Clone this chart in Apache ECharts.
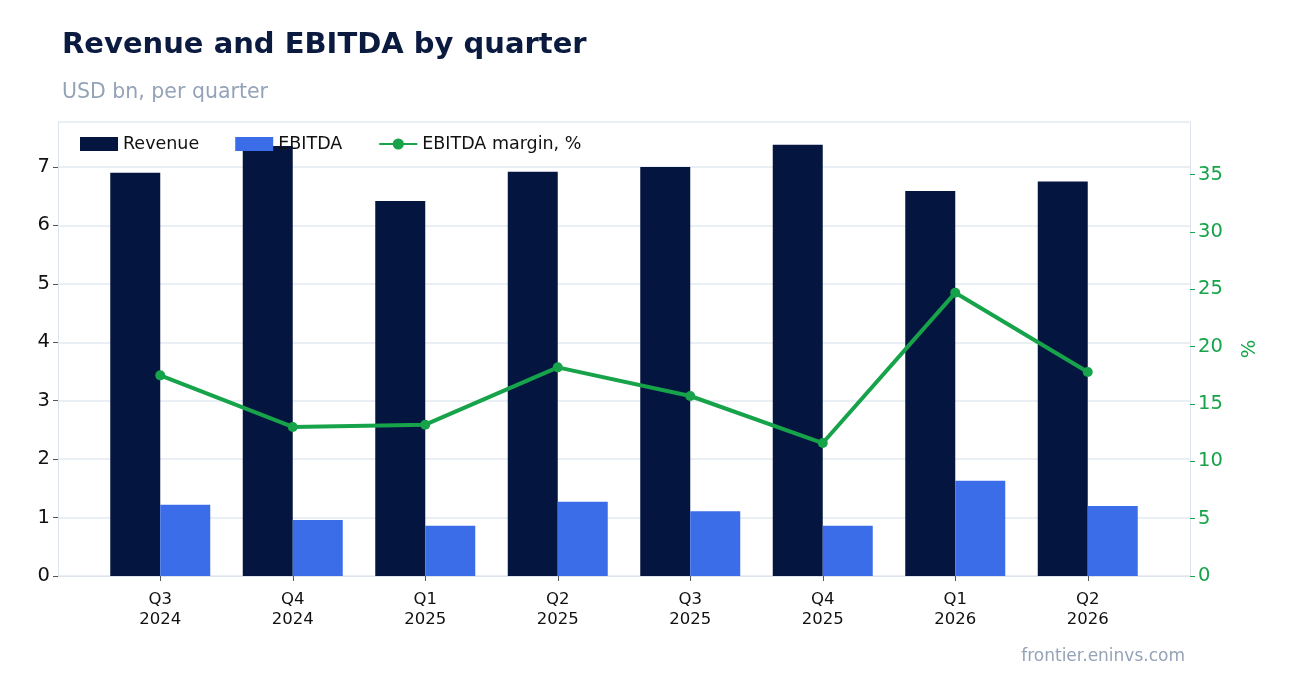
<!doctype html>
<html>
<head>
<meta charset="utf-8">
<script src="https://cdn.jsdelivr.net/npm/echarts@6/dist/echarts.min.js"></script>
<style>body{margin:0;background:#fff}#main{width:1289px;height:693px}</style>
</head>
<body>
<div id="main"></div>
<script>
var quarters = ['Q3\n2024', 'Q4\n2024', 'Q1\n2025', 'Q2\n2025', 'Q3\n2025', 'Q4\n2025', 'Q1\n2026', 'Q2\n2026'];
var revenue = [6.90, 7.36, 6.42, 6.92, 7.00, 7.38, 6.59, 6.75];
var ebitda = [1.22, 0.96, 0.86, 1.27, 1.11, 0.86, 1.63, 1.20];
var margin = [17.5, 13.0, 13.2, 18.2, 15.7, 11.6, 24.7, 17.8];

var font = 'DejaVu Sans';
echarts.init(document.getElementById('main')).setOption({
    textStyle: { fontFamily: font },
    title: [
        { text: 'Revenue and EBITDA by quarter', left: 57, top: 26,
          textStyle: { fontSize: 29, fontWeight: 'bold', color: '#0b1a3f', fontFamily: font } },
        { text: 'USD bn, per quarter', left: 57, top: 77,
          textStyle: { fontSize: 20.5, fontWeight: 'normal', color: '#94a3b8', fontFamily: font } },
        { text: 'frontier.eninvs.com', right: 99, top: 643,
          textStyle: { fontSize: 17, fontWeight: 'normal', color: '#94a3b8', fontFamily: font } }
    ],
    legend: {
        left: 75, top: 130, itemWidth: 38, itemHeight: 14, itemGap: 36,
        textStyle: { fontSize: 17.5, color: '#111', fontFamily: font },
        data: [
            { name: 'Revenue', icon: 'rect' },
            { name: 'EBITDA', icon: 'rect' },
            { name: 'EBITDA margin, %' }
        ]
    },
    grid: [
        { left: 58, right: 99, top: 122, bottom: 117 },
        { left: 94, right: 135, top: 122, bottom: 117 }
    ],
    xAxis: [{
        gridIndex: 0, type: 'category', data: quarters,
        axisLine: { lineStyle: { color: '#dde3ef' } },
        axisTick: { show: false }, axisLabel: { show: false }
    }, {
        gridIndex: 1, type: 'category', data: quarters,
        axisLine: { show: false },
        axisTick: { show: true, alignWithLabel: true, lineStyle: { color: '#555' } },
        axisLabel: { fontSize: 16.5, color: '#111', lineHeight: 20, margin: 14 }
    }],
    yAxis: [{
        gridIndex: 0, type: 'value', min: 0, max: 7.77, interval: 1,
        axisLine: { show: true, lineStyle: { color: '#dde3ef' } },
        axisTick: { show: true, lineStyle: { color: '#555' } },
        axisLabel: { fontSize: 19.5, color: '#111', showMaxLabel: false },
        splitLine: { lineStyle: { color: '#e3e8f2', width: 1.5 } }
    }, {
        gridIndex: 0, type: 'value', min: 0, max: 39.6, interval: 5,
        name: '%', nameLocation: 'middle', nameGap: 50, nameRotate: 90,
        nameTextStyle: { fontSize: 19.5, color: '#16a34a' },
        axisLine: { show: true, lineStyle: { color: '#dde3ef' } },
        axisTick: { show: true, lineStyle: { color: '#16a34a' } },
        axisLabel: { fontSize: 19.5, color: '#16a34a', showMaxLabel: false },
        splitLine: { show: false }
    }, {
        gridIndex: 1, type: 'value', min: 0, max: 7.77, show: false
    }, {
        gridIndex: 1, type: 'value', min: 0, max: 39.6, show: false
    }],
    series: [{
        name: 'Revenue', type: 'bar', data: revenue, barWidth: 50, barGap: '0%',
        xAxisIndex: 1, yAxisIndex: 2,
        itemStyle: { color: '#041640' }
    }, {
        name: 'EBITDA', type: 'bar', data: ebitda, barWidth: 50,
        xAxisIndex: 1, yAxisIndex: 2,
        itemStyle: { color: '#3b6de8' }
    }, {
        name: 'EBITDA margin, %', type: 'line', xAxisIndex: 1, yAxisIndex: 3, data: margin,
        symbol: 'circle', symbolSize: 10,
        lineStyle: { width: 4, color: '#16a34a' }, itemStyle: { color: '#16a34a' }
    }]
});
</script>
</body>
</html>
